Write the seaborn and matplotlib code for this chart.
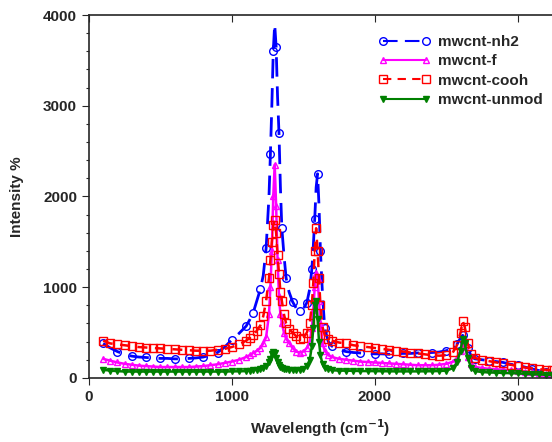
import matplotlib
matplotlib.use("Agg")
import matplotlib.pyplot as plt
import seaborn as sns
import pandas as pd
from matplotlib.ticker import MultipleLocator

# ---------------- data ----------------
wavenumber = [100, 150, 200, 250, 300, 350, 400, 450, 500, 550, 600, 650, 700, 750, 800, 850,
              900, 950, 1000, 1050, 1100, 1125, 1150, 1175, 1200, 1220, 1240, 1260, 1270, 1280,
              1290, 1300, 1310, 1320, 1330, 1340, 1350, 1365, 1380, 1400, 1425, 1450, 1475, 1500,
              1525, 1545, 1560, 1570, 1580, 1590, 1600, 1610, 1620, 1635, 1650, 1675, 1700, 1750,
              1800, 1850, 1900, 1950, 2000, 2050, 2100, 2150, 2200, 2250, 2300, 2350, 2400, 2450,
              2500, 2550, 2575, 2600, 2615, 2630, 2650, 2675, 2700, 2750, 2800, 2850, 2900, 2950,
              3000, 3050, 3100, 3150, 3200, 3240]

nh2 = [380, 330, 290, 260, 240, 230, 225, 220, 215, 215, 210, 210, 215, 220, 230, 250,
       280, 340, 420, 490, 570, 640, 720, 850, 980, 1130, 1430, 2000, 2470, 3000,
       3600, 3900, 3650, 3100, 2700, 2100, 1650, 1350, 1100, 950, 840, 770, 740, 760,
       830, 980, 1200, 1450, 1750, 2100, 2250, 1900, 1400, 900, 550, 400, 350, 310,
       290, 280, 275, 270, 265, 265, 260, 265, 270, 270, 275, 275, 280, 285,
       300, 330, 370, 440, 470, 430, 330, 240, 210, 200, 190, 180, 170, 150,
       140, 120, 100, 80, 65, 55]

f = [210, 190, 170, 155, 145, 135, 130, 125, 120, 120, 120, 120, 120, 125, 130, 140,
     150, 165, 180, 200, 230, 250, 275, 300, 330, 380, 450, 700, 1000, 1400,
     2000, 2350, 1900, 1300, 900, 700, 600, 500, 430, 390, 330, 290, 280, 290,
     330, 400, 550, 750, 1000, 1160, 1100, 850, 600, 380, 300, 250, 230, 210,
     200, 190, 180, 175, 170, 165, 160, 155, 150, 145, 140, 140, 140, 145,
     155, 180, 220, 300, 380, 340, 230, 150, 120, 110, 100, 95, 90, 85,
     80, 70, 60, 50, 45, 40]

cooh = [410, 380, 370, 360, 350, 340, 335, 330, 325, 320, 315, 310, 305, 300, 300, 300,
        310, 320, 340, 370, 410, 440, 470, 520, 580, 680, 850, 1100, 1300, 1500,
        1680, 1740, 1600, 1350, 1150, 950, 850, 700, 600, 540, 500, 460, 430, 440,
        500, 600, 800, 1050, 1400, 1650, 1400, 1100, 800, 560, 470, 430, 410, 390,
        380, 360, 350, 340, 330, 320, 310, 300, 290, 280, 270, 260, 250, 245,
        250, 290, 360, 500, 630, 560, 380, 260, 220, 200, 185, 170, 160, 145,
        130, 115, 105, 95, 90, 85]

unmod = [90, 80, 75, 70, 70, 70, 70, 70, 70, 70, 70, 70, 70, 70, 70, 70,
         70, 70, 72, 73, 75, 80, 85, 90, 100, 110, 130, 170, 210, 260,
         290, 280, 220, 170, 140, 120, 110, 100, 95, 90, 85, 85, 90, 100,
         130, 200, 350, 550, 800, 850, 650, 400, 250, 150, 110, 95, 85, 80,
         80, 78, 76, 75, 75, 74, 73, 72, 72, 72, 72, 73, 74, 76,
         80, 110, 170, 300, 430, 380, 220, 110, 75, 65, 60, 58, 55, 52,
         50, 45, 40, 38, 35, 33]

series_names = ["mwcnt-nh2", "mwcnt-f", "mwcnt-cooh", "mwcnt-unmod"]
series_values = [nh2, f, cooh, unmod]

x_ticks = [0, 1000, 2000, 3000]
y_ticks = [0, 1000, 2000, 3000, 4000]

# ---------------- styling ----------------
sns.set_style("ticks")
plt.rcParams["font.family"] = ["Liberation Sans", "DejaVu Sans"]
plt.rcParams["font.weight"] = "bold"

fig = plt.figure(figsize=(5.52, 4.42), dpi=100)
ax = fig.add_axes([0.161, 0.145, 0.839, 0.821])

styles = {
    "mwcnt-nh2": dict(color="#0000ff", marker="o", linestyle=(0, (7, 3.5)), mfc="none",
                      mec="#0000ff", markersize=5.5, markevery=2, mew=1.0, lw=2.0),
    "mwcnt-f": dict(color="#ff00ff", marker="^", linestyle="-", mfc="none",
                    mec="#ff00ff", markersize=5, markevery=1, mew=1.0, lw=1.8),
    "mwcnt-cooh": dict(color="#ff0000", marker="s", linestyle=(0, (4, 3)), mfc="none",
                       mec="#ff0000", markersize=5.5, markevery=1, mew=1.0, lw=1.8),
    "mwcnt-unmod": dict(color="#008000", marker="v", linestyle="-", mfc="#008000",
                        mec="#008000", markersize=5, markevery=1, mew=1.0, lw=1.8),
}

for name, vals in zip(series_names, series_values):
    df = pd.DataFrame({"Wavelength": wavenumber, "Intensity": vals})
    sns.lineplot(data=df, x="Wavelength", y="Intensity", ax=ax, label=name,
                 estimator=None, sort=True, **styles[name])

ax.set_xlim(0, 3240)
ax.set_ylim(0, 4000)
ax.set_xticks(x_ticks)
ax.set_yticks(y_ticks)
ax.yaxis.set_minor_locator(MultipleLocator(200))
ax.tick_params(axis="both", which="major", labelsize=11, length=5, width=0.8, direction="out")
ax.tick_params(axis="y", which="minor", length=2.5, width=0.8, direction="out")
ax.tick_params(axis="x", which="both", top=True, labeltop=False)
for lab in ax.get_xticklabels() + ax.get_yticklabels():
    lab.set_fontweight("bold")

# top ticks point inward
for t in ax.xaxis.get_major_ticks():
    t.tick2line.set_marker(matplotlib.lines.TICKDOWN)

ax.spines["right"].set_visible(False)
for s in ["left", "bottom", "top"]:
    ax.spines[s].set_linewidth(1.2)

ax.set_xlabel("Wavelength (cm$^{\\mathbf{-1}}$)", fontsize=11, fontweight="bold", labelpad=10)
ax.set_ylabel("Intensity %", fontsize=11, fontweight="bold", labelpad=14)

leg = ax.legend(loc="upper right", bbox_to_anchor=(1.0, 0.97), frameon=False,
                prop={"weight": "bold", "size": 11}, handlelength=3.4, numpoints=2,
                handletextpad=0.5, labelspacing=0.35, borderaxespad=0.2)
for h in leg.legend_handles:
    h.set_markevery(None)
    h.set_lw(1.5)

fig.savefig("out.png", dpi=100)
